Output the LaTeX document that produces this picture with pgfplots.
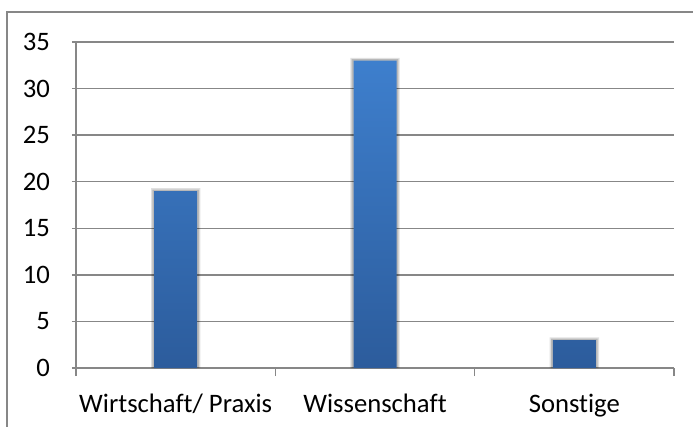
\documentclass[border=0pt]{standalone}
\usepackage{pgfplots}
\pgfplotsset{compat=1.18}
\usepackage{fontspec}
\setmainfont[Ligatures=NoCommon]{Carlito}
\definecolor{gridgray}{HTML}{878787}
\definecolor{bartop}{HTML}{3E7FCD}
\definecolor{barbot}{HTML}{2C5C9C}

\begin{document}
\begin{tikzpicture}
\useasboundingbox (-57pt,-43.5pt) rectangle (462.75pt,276pt);
\draw[gridgray, line width=1.1pt] (-51.75pt,-60pt) -- (-51.75pt,267pt) -- (480pt,267pt);
\begin{axis}[
    at={(0,0)}, anchor=south west,
    scale only axis,
    width=448.5pt, height=244.5pt,
    xmin=-0.5, xmax=2.5,
    ymin=0, ymax=35,
    ytick={0,5,...,35},
    xtick={-0.5,0.5,1.5,2.5},
    xticklabels={},
    extra x ticks={0,1,2},
    extra x tick labels={Wirtschaft/ Praxis, Wissenschaft, Sonstige},
    extra x tick style={major tick length=0pt, xticklabel style={yshift=-16pt}},
    major tick length=6pt,
    tick align=outside,
    axis x line=bottom, axis y line=left,
    axis line style={-, gridgray, line width=1.1pt},
    every tick/.style={gridgray, line width=1.1pt},
    ymajorgrids,
    grid style={gridgray, line width=1.1pt},
    /pgf/number format/assume math mode=true,
    ticklabel style={font=\fontsize{20}{24}\selectfont, text=black},
    yticklabel style={xshift=-13pt},
    ybar, bar width=32.25pt, bar shift=0pt,
    clip=false,
]
% soft shadow behind the bars
\addplot[draw=none, fill=black, opacity=0.12, bar width=37pt] coordinates {(0,19.3) (1,33.3) (2,3.3)};
\addplot[draw=none, fill=black, opacity=0.18, bar width=35pt] coordinates {(0,19.15) (1,33.15) (2,3.15)};
\addplot[draw=none, top color=bartop, bottom color=barbot] coordinates {(0,19) (1,33) (2,3)};
\end{axis}
\end{tikzpicture}
\end{document}
